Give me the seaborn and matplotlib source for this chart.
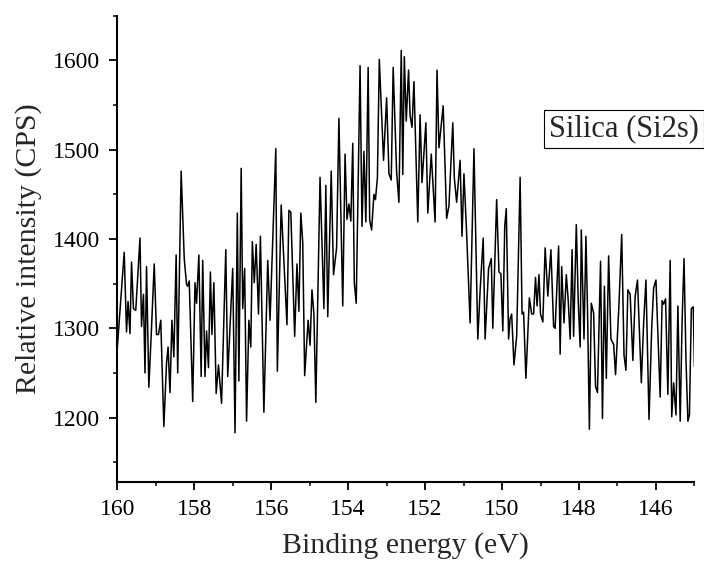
import pandas as pd
import matplotlib
matplotlib.use("Agg")
import matplotlib.pyplot as plt
import seaborn as sns
from matplotlib.ticker import MultipleLocator

# Si2s spectrum (binding energy in eV, intensity in CPS)
energy = [
    160.00, 159.82, 159.76, 159.72, 159.67, 159.63, 159.58, 159.52, 159.41, 159.37,
    159.32, 159.28, 159.24, 159.18, 159.12, 159.04, 158.98, 158.93, 158.87, 158.79,
    158.72, 158.68, 158.63, 158.58, 158.53, 158.47, 158.43, 158.34, 158.26, 158.20,
    158.17, 158.13, 158.04, 157.98, 157.94, 157.88, 157.82, 157.78, 157.72, 157.68,
    157.63, 157.58, 157.54, 157.49, 157.43, 157.37, 157.29, 157.18, 157.13, 157.00,
    156.94, 156.88, 156.84, 156.78, 156.74, 156.69, 156.64, 156.58, 156.53, 156.49,
    156.44, 156.39, 156.33, 156.28, 156.19, 156.09, 156.03, 155.88, 155.84, 155.74,
    155.59, 155.54, 155.49, 155.39, 155.33, 155.28, 155.23, 155.18, 155.13, 155.04,
    154.99, 154.94, 154.89, 154.84, 154.73, 154.63, 154.58, 154.53, 154.44, 154.38,
    154.30, 154.24, 154.14, 154.08, 154.03, 153.98, 153.93, 153.88, 153.84, 153.79,
    153.69, 153.64, 153.59, 153.54, 153.48, 153.44, 153.39, 153.33, 153.29, 153.24,
    153.19, 153.08, 153.00, 152.94, 152.88, 152.83, 152.74, 152.68, 152.62, 152.58,
    152.54, 152.49, 152.43, 152.39, 152.34, 152.29, 152.19, 152.13, 152.08, 151.98,
    151.93, 151.84, 151.74, 151.69, 151.64, 151.53, 151.44, 151.38, 151.28, 151.24,
    151.18, 151.09, 151.04, 150.99, 150.92, 150.83, 150.73, 150.63, 150.57, 150.49,
    150.44, 150.35, 150.28, 150.24, 150.14, 150.08, 150.03, 149.98, 149.93, 149.89,
    149.83, 149.79, 149.75, 149.69, 149.62, 149.53, 149.48, 149.44, 149.38, 149.29,
    149.23, 149.18, 149.13, 149.09, 149.04, 149.00, 148.94, 148.88, 148.81, 148.73,
    148.66, 148.62, 148.53, 148.49, 148.45, 148.39, 148.33, 148.28, 148.23, 148.18,
    148.14, 148.07, 148.02, 147.97, 147.94, 147.87, 147.82, 147.78, 147.73, 147.68,
    147.62, 147.57, 147.52, 147.44, 147.39, 147.34, 147.29, 147.23, 147.17, 147.10,
    147.05, 146.96, 146.89, 146.83, 146.78, 146.73, 146.67, 146.60, 146.54, 146.48,
    146.38, 146.32, 146.26, 146.18, 146.11, 146.06, 146.00, 145.93, 145.89, 145.84,
    145.80, 145.75, 145.69, 145.63, 145.59, 145.54, 145.48, 145.43, 145.37, 145.32,
    145.27, 145.22, 145.17, 145.13, 145.08, 145.03, 145.00,
]
intensity = [
    1278, 1385, 1296, 1330, 1294, 1374, 1322, 1320, 1401, 1302,
    1338, 1250, 1369, 1234, 1291, 1372, 1293, 1293, 1309, 1190,
    1261, 1279, 1228, 1309, 1268, 1382, 1250, 1476, 1378, 1349,
    1347, 1353, 1218, 1351, 1328, 1382, 1246, 1376, 1246, 1297,
    1256, 1363, 1293, 1351, 1227, 1259, 1216, 1388, 1246, 1367,
    1183, 1429, 1241, 1479, 1322, 1367, 1196, 1309, 1279, 1397,
    1351, 1394, 1316, 1403, 1206, 1376, 1309, 1501, 1252, 1438,
    1304, 1432, 1430, 1291, 1372, 1319, 1429, 1396, 1247, 1309,
    1281, 1343, 1316, 1217, 1469, 1322, 1460, 1313, 1476, 1360,
    1390, 1535, 1325, 1495, 1422, 1439, 1420, 1507, 1351, 1328,
    1594, 1414, 1498, 1419, 1592, 1421, 1410, 1450, 1444, 1468,
    1601, 1488, 1558, 1473, 1466, 1592, 1475, 1441, 1611, 1472,
    1604, 1532, 1589, 1538, 1525, 1576, 1419, 1539, 1463, 1530,
    1429, 1495, 1419, 1589, 1502, 1549, 1423, 1437, 1530, 1468,
    1441, 1488, 1403, 1473, 1406, 1306, 1501, 1288, 1342, 1401,
    1288, 1367, 1378, 1300, 1444, 1363, 1361, 1297, 1414, 1434,
    1288, 1311, 1316, 1259, 1291, 1469, 1316, 1318, 1244, 1334,
    1316, 1316, 1357, 1325, 1360, 1316, 1307, 1390, 1336, 1388,
    1302, 1300, 1392, 1271, 1369, 1306, 1360, 1331, 1288, 1388,
    1291, 1416, 1331, 1279, 1410, 1288, 1403, 1324, 1187, 1328,
    1317, 1235, 1228, 1375, 1199, 1347, 1244, 1381, 1288, 1282,
    1248, 1328, 1405, 1270, 1253, 1343, 1338, 1264, 1336, 1354,
    1239, 1306, 1354, 1198, 1301, 1345, 1354, 1271, 1223, 1331,
    1327, 1333, 1226, 1376, 1201, 1239, 1203, 1325, 1196, 1309,
    1378, 1266, 1196, 1203, 1322, 1324, 1257,
]

df = pd.DataFrame({"energy": energy, "intensity": intensity})

sns.set_style("ticks")
plt.rcParams["font.family"] = ["Liberation Serif", "DejaVu Serif"]

fig = plt.figure(figsize=(7.04, 5.69), dpi=100)
ax = fig.add_axes([0.1666, 0.153, 0.8198, 0.8196])

sns.lineplot(data=df, x="energy", y="intensity", color="black",
             linewidth=1.1, estimator=None, ax=ax)

ax.set_xlim(160, 145)
ax.set_ylim(1128, 1650)
ax.xaxis.set_major_locator(MultipleLocator(2))
ax.xaxis.set_minor_locator(MultipleLocator(1))
ax.yaxis.set_major_locator(MultipleLocator(100))
ax.yaxis.set_minor_locator(MultipleLocator(50))

for side in ["top", "right"]:
    ax.spines[side].set_visible(False)
for side in ["left", "bottom"]:
    ax.spines[side].set_linewidth(1.5)
    ax.spines[side].set_color("black")

ax.tick_params(which="major", direction="out", length=5.5, width=1.3,
               labelsize=17, colors="black")
ax.tick_params(which="minor", direction="out", length=2.8, width=1.3)
ax.tick_params(axis="x", which="major", pad=6.5)
ax.tick_params(axis="y", which="major", pad=7)

ax.set_xlabel("Binding energy (eV)", fontsize=21.5, labelpad=9)
ax.set_ylabel("Relative intensity (CPS)", fontsize=21.5, labelpad=8)

ax.text(146.83, 1523, "Silica (Si2s)", fontsize=22,
        ha="center", va="center", clip_on=False,
        bbox=dict(boxstyle="square,pad=0.15", facecolor="white",
                  edgecolor="black", linewidth=0.8))

fig.savefig("out.png", dpi=100)
